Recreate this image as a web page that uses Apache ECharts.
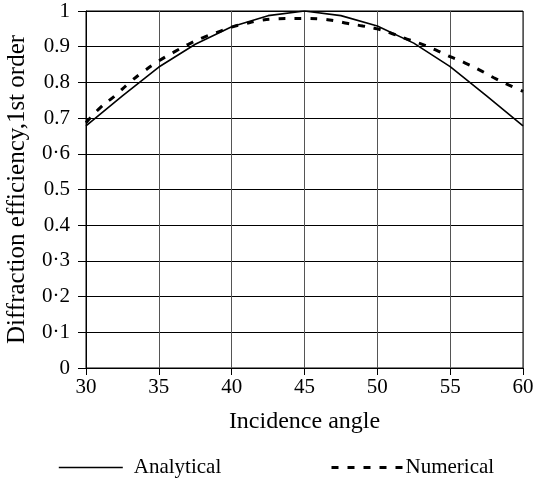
<!DOCTYPE html>
<html>
<head>
<meta charset="utf-8">
<script src="https://cdn.jsdelivr.net/npm/echarts@6/dist/echarts.min.js"></script>
<style>
  html, body { margin: 0; padding: 0; background: #fff; }
  #chart { width: 535px; height: 490px; }
</style>
</head>
<body>
<div id="chart"></div>
<script>
// incidence angle (deg) and 1st-order diffraction efficiency
const analyticalAngle = [30, 32.5, 35, 37.5, 40, 42.5, 45, 47.5, 50, 52.5, 55, 57.5, 60];
const analyticalEff = [0.678, 0.762, 0.843, 0.907, 0.956, 0.987, 1.0, 0.987, 0.958, 0.91, 0.844, 0.762, 0.678];

const numericalAngle = [30, 31, 32, 33, 34, 35, 36, 37, 38, 39, 40, 41, 42, 43, 44, 45, 46, 47, 48, 49, 50, 51, 52, 53, 54, 55, 56, 57, 58, 59, 60];
const numericalEff = [0.687, 0.73, 0.763, 0.8, 0.832, 0.86, 0.884, 0.906, 0.925, 0.94, 0.955, 0.965, 0.974, 0.978, 0.979, 0.979, 0.978, 0.973, 0.965, 0.958, 0.95, 0.937, 0.922, 0.908, 0.891, 0.872, 0.855, 0.835, 0.813, 0.793, 0.775];

const yTickLabels = ["0", "0·1", "0·2", "0·3", "0.4", "0.5", "0·6", "0.7", "0.8", "0.9", "1"];

const font = "'Liberation Serif', 'DejaVu Serif', serif";

function pairs(xs, ys) {
  return xs.map((x, i) => [x, ys[i]]);
}

const chart = echarts.init(document.getElementById("chart"));
chart.setOption({
  animation: false,
  textStyle: { fontFamily: font, color: "#000" },
  grid: {
    left: 86, right: 12, top: 11, bottom: 122,
    outerBoundsMode: "none",
    containLabel: false,
    show: true, borderColor: "#000", borderWidth: 1
  },
  legend: [
    {
      data: ["Analytical"],
      left: 58, top: 457, padding: 0,
      itemWidth: 64, itemHeight: 12, itemGap: 0,
      itemStyle: { opacity: 0 },
      lineStyle: { width: 1.6 },
      textStyle: { fontFamily: font, fontSize: 21, color: "#000", padding: [0, 0, 0, 6] }
    },
    {
      data: ["Numerical"],
      left: 330, top: 457, padding: 0,
      itemWidth: 72, itemHeight: 12, itemGap: 0,
      itemStyle: { opacity: 0 },
      lineStyle: { width: 3 },
      textStyle: { fontFamily: font, fontSize: 21, color: "#000", padding: [0, 0, 0, -3] }
    }
  ],
  xAxis: {
    type: "value",
    min: 30, max: 60, interval: 5,
    name: "Incidence angle",
    nameLocation: "middle",
    nameGap: 42,
    nameTextStyle: { fontFamily: font, fontSize: 24, color: "#000" },
    axisLine: { lineStyle: { color: "#000", width: 1 } },
    axisTick: { show: true, length: 7, lineStyle: { color: "#000" } },
    axisLabel: { fontFamily: font, fontSize: 21, color: "#000", margin: 9 },
    splitLine: { show: true, lineStyle: { color: "#555", width: 1 } }
  },
  yAxis: {
    type: "value",
    min: 0, max: 1, interval: 0.1,
    name: "Diffraction efficiency,1st order",
    nameLocation: "middle",
    nameGap: 56,
    nameTextStyle: { fontFamily: font, fontSize: 25, color: "#000" },
    axisLine: { show: true, lineStyle: { color: "#000", width: 1 } },
    axisTick: { show: true, length: 8, lineStyle: { color: "#000" } },
    axisLabel: {
      fontFamily: font, fontSize: 21, color: "#000", margin: 16,
      formatter: function (v) { return yTickLabels[Math.round(v * 10)]; }
    },
    splitLine: { show: true, lineStyle: { color: "#000", width: 1 } }
  },
  series: [
    {
      name: "Analytical",
      type: "line",
      data: pairs(analyticalAngle, analyticalEff),
      showSymbol: false,
      symbol: "none",
      lineStyle: { color: "#000", width: 1.6, type: "solid" },
      itemStyle: { color: "#000" }
    },
    {
      name: "Numerical",
      type: "line",
      data: pairs(numericalAngle, numericalEff),
      showSymbol: false,
      symbol: "none",
      smooth: true,
      lineStyle: { color: "#000", width: 3, type: [7, 9] },
      itemStyle: { color: "#000" }
    }
  ]
});
</script>
</body>
</html>
